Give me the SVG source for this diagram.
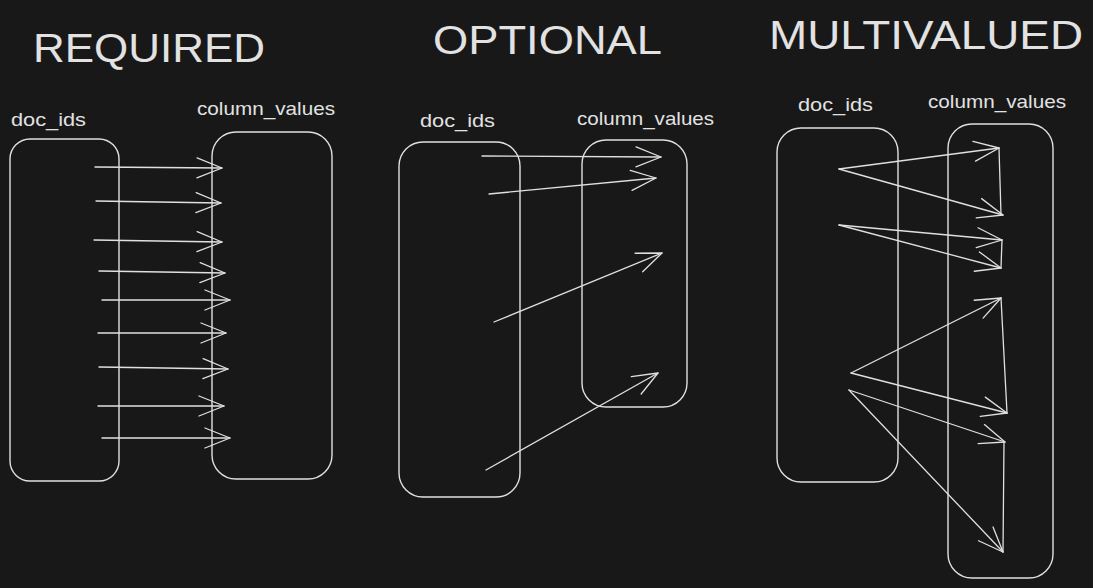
<svg xmlns="http://www.w3.org/2000/svg" width="1093" height="588" viewBox="0 0 1093 588">
<style>
.title{font-family:"Liberation Sans","DejaVu Sans",sans-serif;font-size:40px;fill:#e2e2e2;}
.lbl{font-family:"Liberation Sans","DejaVu Sans",sans-serif;font-size:19px;fill:#e2e2e2;}
.box{fill:none;stroke:#e0e0e0;stroke-width:1.4;}
.arr{fill:none;stroke:#e0e0e0;stroke-width:1.3;stroke-linecap:round;marker-end:url(#ah);}
.ln{fill:none;stroke:#e0e0e0;stroke-width:1.3;stroke-linecap:round;}
</style>
<defs>
<marker id="ah" markerUnits="userSpaceOnUse" orient="auto" viewBox="-30 -15 32 30" markerWidth="32" markerHeight="30" refX="0" refY="0">
<path d="M-25,-10 L0,0 L-25,10" fill="none" stroke="#e0e0e0" stroke-width="1.3" stroke-linecap="round" stroke-linejoin="round"/>
</marker>
</defs>
<rect width="1093" height="588" fill="#181818"/>
<g id="titles">
<text class="title" x="33" y="62" textLength="232" lengthAdjust="spacingAndGlyphs">REQUIRED</text>
<text class="title" x="433" y="54" textLength="229" lengthAdjust="spacingAndGlyphs">OPTIONAL</text>
<text class="title" x="769" y="49" textLength="314" lengthAdjust="spacingAndGlyphs">MULTIVALUED</text>
</g>
<g id="req-doc-ids">
<text class="lbl" x="11" y="126" textLength="75" lengthAdjust="spacingAndGlyphs">doc_ids</text>
<rect class="box" x="10" y="139" width="109" height="342" rx="20"/>
</g>
<g id="req-column-values">
<text class="lbl" x="197" y="115" textLength="138" lengthAdjust="spacingAndGlyphs">column_values</text>
<rect class="box" x="212" y="132" width="120" height="347" rx="24"/>
</g>
<g id="opt-doc-ids">
<text class="lbl" x="420" y="127" textLength="75" lengthAdjust="spacingAndGlyphs">doc_ids</text>
<rect class="box" x="399" y="142" width="121" height="355" rx="24"/>
</g>
<g id="opt-column-values">
<text class="lbl" x="577" y="125" textLength="137" lengthAdjust="spacingAndGlyphs">column_values</text>
<rect class="box" x="582" y="140" width="105" height="267" rx="24"/>
</g>
<g id="mv-doc-ids">
<text class="lbl" x="798" y="111" textLength="75" lengthAdjust="spacingAndGlyphs">doc_ids</text>
<rect class="box" x="777" y="128" width="121" height="354" rx="24"/>
</g>
<g id="mv-column-values">
<text class="lbl" x="928" y="108" textLength="138" lengthAdjust="spacingAndGlyphs">column_values</text>
<rect class="box" x="948" y="124" width="105" height="454" rx="24"/>
</g>
<g id="connectors">
<line class="arr" x1="95" y1="167" x2="222" y2="168"/>
<line class="arr" x1="96" y1="201" x2="221" y2="203"/>
<line class="arr" x1="94" y1="240" x2="222" y2="242"/>
<line class="arr" x1="99" y1="271" x2="225" y2="273"/>
<line class="arr" x1="102" y1="300" x2="230" y2="300"/>
<line class="arr" x1="98" y1="333" x2="226" y2="333"/>
<line class="arr" x1="99" y1="367" x2="228" y2="369"/>
<line class="arr" x1="98" y1="406" x2="224" y2="406"/>
<line class="arr" x1="102" y1="438" x2="230" y2="438"/>

<line class="arr" x1="482" y1="156" x2="661" y2="157"/>
<line class="arr" x1="489" y1="194" x2="656" y2="178"/>
<line class="arr" x1="494" y1="322" x2="662" y2="253"/>
<line class="arr" x1="486" y1="470" x2="658" y2="373"/>

<line class="arr" x1="839" y1="169" x2="999" y2="148"/>
<line class="arr" x1="839" y1="169" x2="1003" y2="215"/>
<line class="arr" x1="839" y1="225" x2="1002" y2="240"/>
<line class="arr" x1="839" y1="225" x2="1001" y2="268"/>
<line class="arr" x1="851" y1="373" x2="1001" y2="298"/>
<line class="arr" x1="851" y1="373" x2="1007" y2="413"/>
<line class="arr" x1="849" y1="390" x2="1005" y2="442"/>
<line class="arr" x1="849" y1="390" x2="1003" y2="552"/>
<line class="ln" x1="999" y1="148" x2="1001" y2="215"/>
<line class="ln" x1="1002" y1="240" x2="1001" y2="268"/>
<line class="ln" x1="1001" y1="298" x2="1007" y2="413"/>
<line class="ln" x1="1004" y1="442" x2="1003" y2="552"/>
</g>
</svg>
